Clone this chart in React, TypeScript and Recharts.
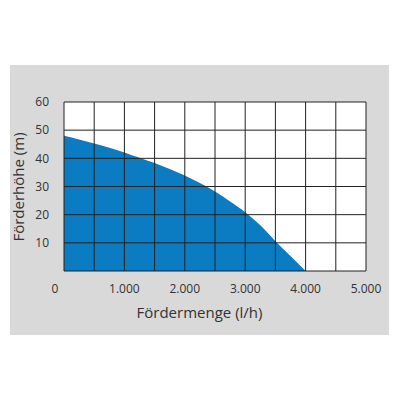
import { AreaChart, Area, XAxis, YAxis, ReferenceLine, ReferenceArea, Label } from "recharts";

// Förderleistung (l/h) gegen Förderhöhe (m)
const flow = [0, 250, 500, 750, 1000, 1250, 1500, 1750, 2000, 2250, 2500, 2750, 3000, 3250, 3500, 3750, 4000];
const head = [48, 46.7, 45.3, 43.8, 42.1, 40.2, 38.3, 36.2, 33.9, 31.2, 28.2, 24.7, 20.9, 16.2, 10.6, 5.3, 0];

const xTicks = [0, 500, 1000, 1500, 2000, 2500, 3000, 3500, 4000, 4500, 5000];
const yTicks = [0, 10, 20, 30, 40, 50, 60];

const data = flow.map((f, i) => ({ flow: f, head: head[i] }));

const FONT = "'Open Sans', sans-serif";
const TEXT = "#333";
const GRID = "#222";

const fmt = (v: number) => String(v).replace(/\B(?=(\d{3})+(?!\d))/g, ".");

function XTick(props: any) {
  const { x, y, payload } = props;
  if (payload.value % 1000 !== 0) return <g />;
  return (
    <text x={payload.value === 0 ? x - 9 : x} y={y} dy="0.71em" textAnchor="middle" fontSize={12} fontFamily={FONT} fill={TEXT}>
      {fmt(payload.value)}
    </text>
  );
}

function YTick(props: any) {
  const { x, y, payload } = props;
  if (payload.value === 0) return <g />;
  return (
    <text x={x} y={y} dy="0.355em" textAnchor="end" fontSize={12} fontFamily={FONT} fill={TEXT}>
      {payload.value}
    </text>
  );
}

export default function App() {
  return (
    <div style={{ position: "absolute", left: 0, top: 0, width: 400, height: 400, background: "#fff" }}>
      <div style={{ position: "absolute", left: 10, top: 65, width: 379, height: 270, background: "#d9d9d9" }} />
      <div style={{ position: "absolute", left: 0, top: 0 }}>
        <AreaChart width={400} height={400} data={data} margin={{ top: 102, right: 34, left: 0, bottom: 65 }}>
          <XAxis
            dataKey="flow"
            type="number"
            domain={[0, 5000]}
            ticks={xTicks}
            height={64}
            tickSize={0}
            tickMargin={13}
            axisLine={false}
            tickLine={false}
            tick={<XTick />}
            interval={0}
          >
            <Label
              content={() => (
                <text x={199.5} y={318} textAnchor="middle" fontSize={15} fontFamily={FONT} fill={TEXT}>
                  Fördermenge (l/h)
                </text>
              )}
            />
          </XAxis>
          <YAxis
            type="number"
            domain={[0, 60]}
            ticks={yTicks}
            width={64}
            tickSize={0}
            tickMargin={15}
            axisLine={false}
            tickLine={false}
            tick={<YTick />}
            interval={0}
          >
            <Label
              content={() => (
                <text
                  x={24}
                  y={187}
                  transform="rotate(-90 24 187)"
                  textAnchor="middle"
                  fontSize={15}
                  fontFamily={FONT}
                  fill={TEXT}
                >
                  Förderhöhe (m)
                </text>
              )}
            />
          </YAxis>
          <ReferenceArea x1={0} x2={5000} y1={0} y2={60} fill="#fff" fillOpacity={1} stroke="none" />
          <Area
            type="monotone"
            dataKey="head"
            stroke="none"
            fill="#0b7bc2"
            fillOpacity={1}
            isAnimationActive={false}
          />
          {xTicks.map((t) => (
            <ReferenceLine key={"x" + t} x={t} stroke={GRID} strokeWidth={1} />
          ))}
          {yTicks.map((t) => (
            <ReferenceLine key={"y" + t} y={t} stroke={GRID} strokeWidth={1} />
          ))}
        </AreaChart>
      </div>
    </div>
  );
}
